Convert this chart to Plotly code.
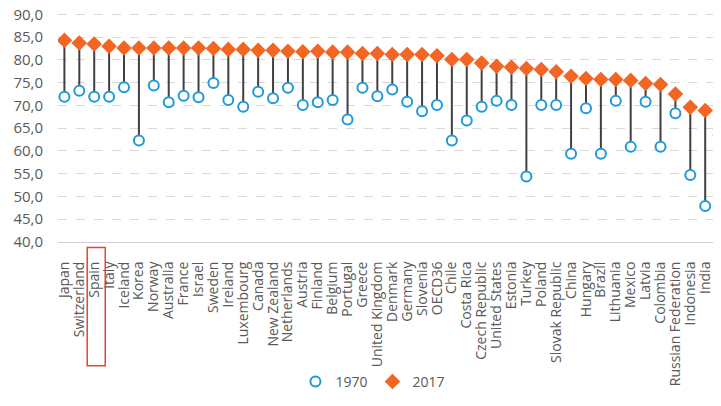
"""
Life expectancy at birth, 1970 and 2017 - dumbbell chart.
"""

import plotly.graph_objects as go

countries = [
    'Japan', 'Switzerland', 'Spain', 'Italy', 'Iceland', 'Korea', 'Norway',
    'Australia', 'France', 'Israel', 'Sweden', 'Ireland', 'Luxembourg',
    'Canada', 'New Zealand', 'Netherlands', 'Austria', 'Finland', 'Belgium',
    'Portugal', 'Greece', 'United Kingdom', 'Denmark', 'Germany', 'Slovenia',
    'OECD36', 'Chile', 'Costa Rica', 'Czech Republic', 'United States',
    'Estonia', 'Turkey', 'Poland', 'Slovak Republic', 'China', 'Hungary',
    'Brazil', 'Lithuania', 'Mexico', 'Latvia', 'Colombia',
    'Russian Federation', 'Indonesia', 'India', 'South Africa'
]

le_1970 = [
    71.9, 73.2, 71.9, 71.9, 74.0, 62.3, 74.4, 70.7, 72.1, 71.8, 74.9, 71.2,
    69.7, 73.0, 71.6, 73.9, 70.1, 70.7, 71.2, 66.9, 73.9, 72.0, 73.5, 70.8,
    68.7, 70.1, 62.3, 66.7, 69.7, 71.0, 70.1, 54.4, 70.1, 70.1, 59.4, 69.4,
    59.4, 71.0, 60.9, 70.8, 60.9, 68.3, 54.7, 47.9, 56.0
]

le_2017 = [
    84.3, 83.7, 83.5, 83.0, 82.6, 82.6, 82.6, 82.6, 82.6, 82.6, 82.5, 82.3,
    82.3, 82.1, 82.1, 81.9, 81.8, 81.9, 81.7, 81.7, 81.4, 81.4, 81.2, 81.2,
    81.2, 80.9, 80.1, 80.1, 79.3, 78.6, 78.4, 78.1, 77.9, 77.4, 76.4, 75.9,
    75.7, 75.7, 75.5, 74.8, 74.6, 72.5, 69.6, 68.9, 63.5
]

y_ticks = [40, 45, 50, 55, 60, 65, 70, 75, 80, 85, 90]

GRAY_TEXT = '#595959'
FONT = 'Open Sans'

# Connector segments between the two years
seg_x, seg_y = [], []
for c, a, b in zip(countries, le_1970, le_2017):
    seg_x += [c, c, None]
    seg_y += [a, b, None]

fig = go.Figure()

fig.add_trace(go.Scatter(
    x=seg_x, y=seg_y,
    mode='lines',
    line=dict(color='#404040', width=2),
    showlegend=False,
    hoverinfo='skip'
))

fig.add_trace(go.Scatter(
    x=countries, y=le_1970,
    mode='markers',
    name='1970',
    marker=dict(symbol='circle', size=10, color='white',
                line=dict(color='#1f9ad6', width=2))
))

fig.add_trace(go.Scatter(
    x=countries, y=le_2017,
    mode='markers',
    name='2017',
    marker=dict(symbol='diamond', size=12, color='#f26522',
                line=dict(width=0))
))

# Highlight box around the Spain label
fig.add_shape(
    type='rect', xref='x', yref='paper',
    x0=1.53, x1=2.74, y0=-0.024, y1=-0.54,
    line=dict(color='#e8452c', width=1.5),
    fillcolor='rgba(0,0,0,0)'
)

# page body has an 8px margin, so the figure is kept small enough that the
# page does not scroll; South Africa sits on the right edge, as in the source
fig.update_layout(
    width=713, height=390,
    margin=dict(l=50, r=0, t=5, b=151),
    paper_bgcolor='white',
    plot_bgcolor='white',
    separators=',.',
    font=dict(family=FONT, size=13, color=GRAY_TEXT),
    legend=dict(
        orientation='h',
        x=0.475, xanchor='center',
        y=-0.611, yanchor='middle',
        font=dict(family=FONT, size=14, color=GRAY_TEXT),
        itemwidth=30,
        tracegroupgap=0
    ),
    xaxis=dict(
        type='category',
        range=[-0.43, 44.06],
        tickmode='array',
        tickvals=countries,
        ticktext=countries,
        tickangle=-90,
        automargin=False,
        showgrid=False,
        showline=True,
        linecolor='#d0d0d0',
        linewidth=1,
        ticks='',
        ticklabelstandoff=13,
        tickfont=dict(family=FONT, size=14, color=GRAY_TEXT)
    ),
    yaxis=dict(
        range=[40, 90.3],
        tickvals=y_ticks,
        tickformat='.1f',
        automargin=False,
        ticklabeloverflow='allow',
        showgrid=True,
        gridcolor='#d9d9d9',
        griddash='dash',
        gridwidth=1,
        zeroline=False,
        showline=False,
        ticks='',
        ticklabelstandoff=14,
        tickfont=dict(family=FONT, size=15, color=GRAY_TEXT)
    )
)

fig.write_html("out.html")
